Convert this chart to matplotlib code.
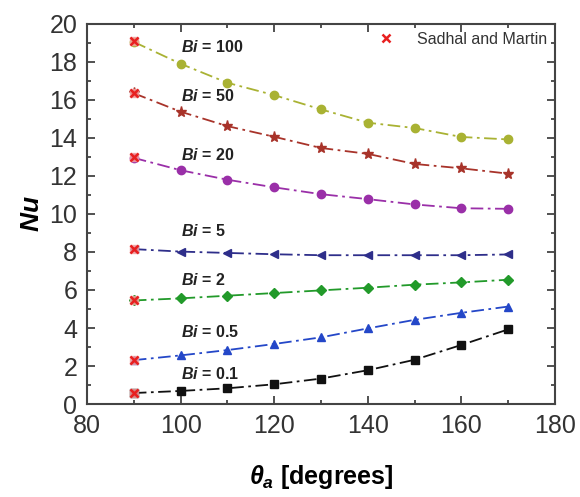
import numpy as np
import matplotlib
matplotlib.use("Agg")
import matplotlib.pyplot as plt
from matplotlib.ticker import MultipleLocator

plt.rcParams['font.family'] = ['Liberation Sans', 'DejaVu Sans']
plt.rcParams['mathtext.fontset'] = 'custom'
plt.rcParams['mathtext.bf'] = 'Liberation Sans:bold'
plt.rcParams['mathtext.it'] = 'Liberation Sans:italic:bold'
plt.rcParams['mathtext.rm'] = 'Liberation Sans:bold'

# contact angle (degrees)
theta = [90, 100, 110, 120, 130, 140, 150, 160, 170]

# Nu for each Biot number
nu_bi100 = [19.05, 17.9, 16.9, 16.25, 15.5, 14.8, 14.52, 14.05, 13.92]
nu_bi50 = [16.35, 15.38, 14.62, 14.06, 13.47, 13.16, 12.63, 12.4, 12.12]
nu_bi20 = [12.95, 12.3, 11.8, 11.4, 11.04, 10.78, 10.5, 10.3, 10.27]
nu_bi5 = [8.15, 8.02, 7.95, 7.88, 7.83, 7.83, 7.83, 7.83, 7.87]
nu_bi2 = [5.45, 5.56, 5.7, 5.84, 5.98, 6.12, 6.28, 6.4, 6.54]
nu_bi05 = [2.31, 2.56, 2.84, 3.16, 3.51, 3.98, 4.43, 4.8, 5.13]
nu_bi01 = [0.58, 0.69, 0.83, 1.04, 1.34, 1.78, 2.33, 3.11, 3.93]

# Sadhal and Martin values at 90 degrees
sm_theta = [90, 90, 90, 90, 90, 90, 90]
sm_nu = [0.6, 2.3, 5.48, 8.15, 12.97, 16.38, 19.08]

series = [
    (nu_bi100, '#a9b233', 'o', '100', 18.8),
    (nu_bi50, '#a8332a', '*', '50', 16.2),
    (nu_bi20, '#9a2fa8', 'o', '20', 13.1),
    (nu_bi5, '#2e2e8a', '<', '5', 9.1),
    (nu_bi2, '#229a2a', 'D', '2', 6.5),
    (nu_bi05, '#2447c8', '^', '0.5', 3.8),
    (nu_bi01, '#111111', 's', '0.1', 1.6),
]

fig = plt.figure(figsize=(5.8, 4.97), dpi=100)
ax = fig.add_axes([0.15, 0.187, 0.807, 0.765])

for vals, col, mk, lab, ty in series:
    ms = 6
    if mk == '*':
        ms = 8
    if mk == 'D':
        ms = 5
    ax.plot(theta, vals, linestyle=(0, (7, 2.5, 1.5, 2.5)), color=col, lw=1.3,
            marker=mk, markersize=ms, markeredgecolor=col, markerfacecolor=col)
    ax.text(100, ty, r'$Bi$' + ' = ' + lab, fontsize=11.5,
            fontweight='bold', color='#222222', ha='left', va='center')

ax.plot(sm_theta, sm_nu, linestyle='none', marker='s', color='#f4a0a0',
        markersize=6, alpha=0.8)
ax.plot(sm_theta, sm_nu, linestyle='none', marker='x', color='#e82020',
        markersize=6, mew=1.8, label='Sadhal and Martin')

leg = ax.legend(loc='upper right', frameon=False, fontsize=11.5, handletextpad=1.2,
                borderaxespad=0.1, handlelength=1.5)
for t in leg.get_texts():
    t.set_color('#333333')

ax.set_xlim(80, 180)
ax.set_ylim(0, 20)
ax.xaxis.set_major_locator(MultipleLocator(20))
ax.xaxis.set_minor_locator(MultipleLocator(10))
ax.yaxis.set_major_locator(MultipleLocator(2))
ax.yaxis.set_minor_locator(MultipleLocator(1))
ax.tick_params(which='both', direction='in', top=True, right=True, labelsize=18,
               width=1.2, colors='#333333')
ax.tick_params(which='major', length=6, pad=7)
ax.tick_params(which='minor', length=3)
for s in ax.spines.values():
    s.set_linewidth(1.5)
    s.set_color('#444444')

ax.set_xlabel(r'$\theta_a$ [degrees]', fontsize=18, fontweight='bold', labelpad=18)
ax.set_ylabel(r'$Nu$', fontsize=19, fontweight='bold', labelpad=4)

fig.savefig('out.png', dpi=100)
